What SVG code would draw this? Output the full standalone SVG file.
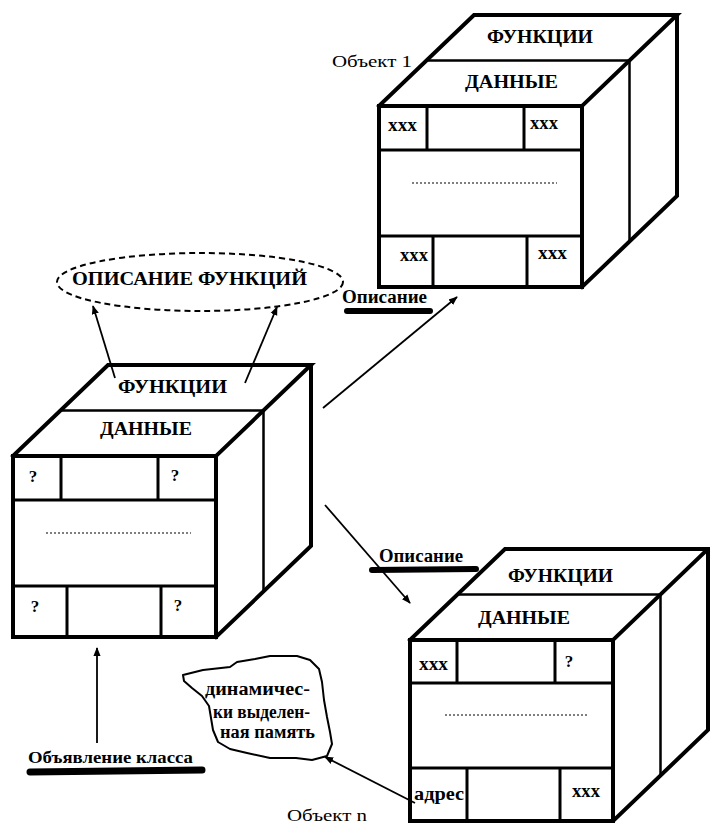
<svg xmlns="http://www.w3.org/2000/svg" xmlns:xlink="http://www.w3.org/1999/xlink" width="710" height="823" viewBox="0 0 710 823">
<style>
  .outer{fill:none;stroke:#000;stroke-width:4;stroke-linejoin:miter;stroke-linecap:square}
  .mid{fill:none;stroke:#000;stroke-width:2.5}
  .cell{fill:none;stroke:#000;stroke-width:3}
  .dots{stroke:#000;stroke-width:1.2;stroke-dasharray:2 2}
  .conn{fill:none;stroke:#000;stroke-width:1.8}
  .bar{stroke:#000;stroke-width:6;stroke-linecap:round}
  text{font-family:"Liberation Serif","Times New Roman",serif;fill:#000}
  .b{font-weight:bold}
  .t19{font-size:19px}
  .t18{font-size:18px}
  .t17{font-size:17px}
  .t16{font-size:16px}
</style>
<defs>
  <marker id="ah" viewBox="0 0 10 10" refX="9" refY="5" markerWidth="9" markerHeight="9" markerUnits="userSpaceOnUse" orient="auto">
    <path d="M0,1 L10,5 L0,9 Z" fill="#000"/>
  </marker>
  <g id="cubeShape">
    <path class="outer" d="M0,0 H203 V181 H0 Z"/>
    <path class="outer" d="M0,0 L95,-91 H298 L203,0"/>
    <path class="outer" d="M298,-91 V90 L203,181"/>
    <path class="mid" d="M47.5,-45.5 H250.5 V135.5"/>
    <path class="cell" d="M0,44 H203 M0,130 H203 M48,0 V44 M145,0 V44 M54,130 V181 M148,130 V181"/>
    <line class="dots" x1="33" y1="77" x2="178" y2="77"/>
  </g>
  <g id="cubeShapeN">
    <path class="outer" d="M0,0 H203 V181 H0 Z"/>
    <path class="outer" d="M0,0 L95,-91 H298 L203,0"/>
    <path class="outer" d="M298,-91 V90 L203,181"/>
    <path class="mid" d="M47.5,-45.5 H250.5 V135.5"/>
    <path class="cell" d="M0,43 H203 M0,128 H203 M47,0 V43 M145,0 V43 M57,128 V181 M150,128 V181"/>
    <line class="dots" x1="35" y1="75" x2="178" y2="75"/>
  </g>
</defs>
<rect width="710" height="823" fill="#fff"/>

<g id="connectors">
  <line class="conn" x1="115" y1="378" x2="93" y2="306" marker-end="url(#ah)"/>
  <line class="conn" x1="245" y1="383" x2="277" y2="307" marker-end="url(#ah)"/>
  <line class="conn" x1="323" y1="408" x2="457" y2="297" marker-end="url(#ah)"/>
  <line class="conn" x1="325" y1="505" x2="410" y2="603" marker-end="url(#ah)"/>
  <line class="conn" x1="97" y1="743" x2="97" y2="648" marker-end="url(#ah)"/>
  <line class="conn" x1="415" y1="803" x2="325" y2="757" marker-end="url(#ah)"/>
</g>

<g id="opisanie-funkciy">
  <ellipse cx="200" cy="282" rx="143" ry="29" fill="none" stroke="#000" stroke-width="2" stroke-dasharray="6 4"/>
  <text class="b t19" x="72" y="285" textLength="235" lengthAdjust="spacingAndGlyphs">ОПИСАНИЕ ФУНКЦИЙ</text>
</g>

<g id="class-cube">
  <use xlink:href="#cubeShape" href="#cubeShape" transform="translate(13,456)"/>
  <text class="b t19" x="118" y="393" textLength="109" lengthAdjust="spacingAndGlyphs">ФУНКЦИИ</text>
  <text class="b t19" x="100" y="435" textLength="92" lengthAdjust="spacingAndGlyphs">ДАННЫЕ</text>
  <text class="b t17" x="33" y="482" text-anchor="middle">?</text>
  <text class="b t17" x="175" y="481" text-anchor="middle">?</text>
  <text class="b t17" x="35" y="612" text-anchor="middle">?</text>
  <text class="b t17" x="178" y="611" text-anchor="middle">?</text>
</g>

<g id="object-1">
  <use xlink:href="#cubeShape" href="#cubeShape" transform="translate(379,106)"/>
  <text class="b t19" x="487" y="43" textLength="106" lengthAdjust="spacingAndGlyphs">ФУНКЦИИ</text>
  <text class="b t19" x="465" y="88" textLength="93" lengthAdjust="spacingAndGlyphs">ДАННЫЕ</text>
  <text class="b t18" x="388" y="131" textLength="29" lengthAdjust="spacingAndGlyphs">xxx</text>
  <text class="b t18" x="530" y="129" textLength="28" lengthAdjust="spacingAndGlyphs">xxx</text>
  <text class="b t18" x="400" y="261" textLength="28" lengthAdjust="spacingAndGlyphs">xxx</text>
  <text class="b t18" x="538" y="259" textLength="29" lengthAdjust="spacingAndGlyphs">xxx</text>
  <text class="t16" x="332" y="67" textLength="80" lengthAdjust="spacingAndGlyphs">Объект 1</text>
</g>

<g id="object-n">
  <use xlink:href="#cubeShapeN" href="#cubeShapeN" transform="translate(410,640)"/>
  <text class="b t19" x="508" y="582" textLength="105" lengthAdjust="spacingAndGlyphs">ФУНКЦИИ</text>
  <text class="b t19" x="478" y="624" textLength="92" lengthAdjust="spacingAndGlyphs">ДАННЫЕ</text>
  <text class="b t18" x="419" y="670" textLength="29" lengthAdjust="spacingAndGlyphs">xxx</text>
  <text class="b t17" x="569" y="667" text-anchor="middle">?</text>
  <text class="b t18" x="414" y="800" textLength="50" lengthAdjust="spacingAndGlyphs">адрес</text>
  <text class="b t18" x="572" y="797" textLength="28" lengthAdjust="spacingAndGlyphs">xxx</text>
  <text class="t16" x="287" y="821" textLength="80" lengthAdjust="spacingAndGlyphs">Объект n</text>
</g>

<g id="label-opisanie-1">
  <text class="b t18" x="342" y="303" textLength="85" lengthAdjust="spacingAndGlyphs">Описание</text>
  <line class="bar" x1="347" y1="311" x2="430" y2="311"/>
</g>

<g id="label-opisanie-2">
  <text class="b t18" x="379" y="562" textLength="84" lengthAdjust="spacingAndGlyphs">Описание</text>
  <line class="bar" x1="372" y1="570" x2="476" y2="569"/>
</g>

<g id="label-obyavlenie">
  <text class="b t17" x="28" y="763" textLength="165" lengthAdjust="spacingAndGlyphs">Объявление класса</text>
  <line class="bar" x1="30" y1="772" x2="202" y2="770" style="stroke-width:7"/>
</g>

<g id="dynamic-memory">
  <path d="M183,675 L203,670 L230,667 L237,662 L255,659 L270,656 L297,656 L310,660 L319,669 L322,682 L324,700 L327,717 L330,732 L332,744 L327,756 L312,760 L296,758 L270,758 L247,753 L230,749 L218,742 L213,730 L211,718 L209,706 L202,696 L192,688 L184,681 Z" fill="none" stroke="#000" stroke-width="2" stroke-linejoin="round"/>
  <text class="b t18" x="205" y="695" textLength="105" lengthAdjust="spacingAndGlyphs">динамичес-</text>
  <text class="b t18" x="213" y="718" textLength="97" lengthAdjust="spacingAndGlyphs">ки выделен-</text>
  <text class="b t18" x="220" y="738" textLength="95" lengthAdjust="spacingAndGlyphs">ная память</text>
</g>
</svg>
